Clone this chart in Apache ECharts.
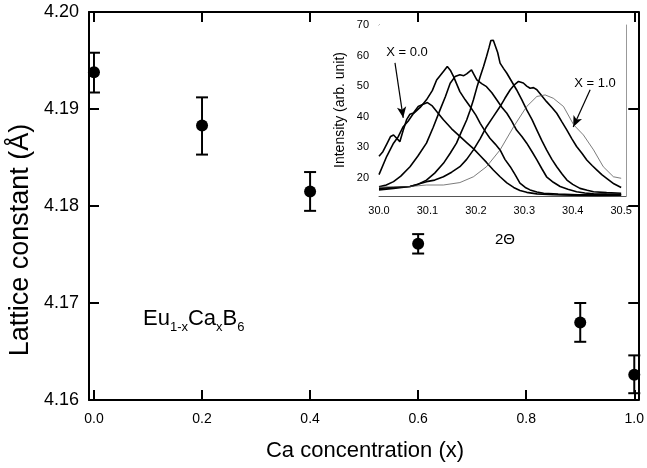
<!DOCTYPE html>
<html><head><meta charset="utf-8">
<script src="https://cdn.jsdelivr.net/npm/echarts@6/dist/echarts.min.js"></script>
<style>html,body{margin:0;padding:0;background:#fff}#c{width:647px;height:468px}</style>
</head><body><div id="c"></div>
<script>
// ---- main plot data ----
const caConc = [0, 0.2, 0.4, 0.6, 0.9, 1.0];
const latticeConst = [4.1938, 4.1883, 4.1815, 4.1761, 4.1680, 4.1626];
const errTop = [4.1958, 4.1912, 4.1835, 4.1771, 4.1700, 4.1646];
const errBottom = [4.1917, 4.1853, 4.1795, 4.1751, 4.1660, 4.1607];
const mainXTicks = [0, 0.2, 0.4, 0.6, 0.8, 1.0];
const mainYTicks = [4.16, 4.17, 4.18, 4.19, 4.20];

// ---- inset data (2theta, intensity) ----
const insetXTicks = [30.0, 30.1, 30.2, 30.3, 30.4, 30.5];
const insetYTicks = [20, 30, 40, 50, 60, 70];
const xrd_x00 = [[30.000,27.0],[30.008,28.5],[30.016,31.0],[30.024,33.5],[30.030,34.0],[30.036,33.0],[30.043,31.8],[30.050,35.5],[30.057,39.0],[30.064,40.8],[30.071,41.2],[30.081,43.3],[30.090,44.0],[30.100,44.6],[30.110,43.5],[30.120,41.5],[30.133,39.0],[30.150,36.0],[30.167,33.5],[30.181,31.5],[30.195,29.5],[30.209,27.2],[30.222,25.0],[30.236,22.5],[30.250,20.3],[30.264,18.3],[30.278,16.8],[30.291,15.8],[30.305,15.2],[30.326,14.7],[30.360,14.4],[30.400,14.3],[30.450,14.2],[30.500,14.3]];
const xrd_x02 = [[30.000,21.0],[30.016,27.0],[30.030,31.3],[30.040,33.5],[30.050,36.7],[30.060,38.5],[30.071,41.0],[30.085,43.0],[30.098,45.5],[30.110,48.5],[30.119,52.0],[30.133,54.8],[30.141,56.4],[30.148,55.0],[30.154,53.1],[30.167,48.2],[30.178,45.5],[30.188,43.3],[30.200,40.5],[30.209,37.8],[30.220,35.0],[30.229,32.9],[30.240,31.0],[30.250,29.1],[30.260,26.0],[30.271,23.6],[30.281,21.0],[30.291,18.2],[30.302,16.8],[30.312,16.0],[30.326,15.3],[30.340,14.9],[30.370,14.6],[30.410,14.4],[30.460,14.5],[30.500,14.4]];
const xrd_x04 = [[30.000,17.0],[30.015,17.6],[30.030,18.7],[30.045,20.5],[30.064,23.6],[30.080,27.0],[30.098,31.3],[30.112,36.5],[30.126,42.2],[30.137,46.5],[30.147,50.9],[30.157,53.1],[30.167,53.7],[30.175,53.4],[30.181,54.0],[30.191,55.3],[30.197,53.5],[30.202,52.0],[30.212,50.8],[30.222,49.8],[30.233,47.8],[30.243,45.5],[30.254,43.0],[30.264,41.1],[30.274,38.5],[30.284,35.6],[30.295,33.5],[30.305,31.3],[30.316,28.5],[30.326,25.8],[30.336,23.0],[30.346,20.3],[30.360,18.5],[30.374,17.1],[30.390,16.2],[30.408,15.4],[30.425,15.0],[30.443,14.7],[30.470,14.6],[30.500,14.5]];
const xrd_x06 = [[30.000,16.0],[30.030,16.5],[30.064,17.1],[30.080,17.8],[30.098,19.2],[30.115,21.5],[30.133,24.7],[30.147,28.0],[30.160,31.3],[30.170,35.0],[30.181,38.9],[30.188,42.0],[30.195,45.5],[30.202,49.5],[30.209,53.1],[30.216,56.5],[30.222,59.7],[30.227,62.5],[30.231,64.9],[30.236,65.0],[30.240,64.6],[30.245,61.0],[30.250,57.5],[30.257,55.8],[30.264,54.2],[30.274,51.5],[30.284,48.8],[30.295,45.5],[30.305,42.2],[30.316,39.0],[30.326,35.6],[30.336,32.2],[30.346,29.1],[30.357,26.0],[30.367,23.6],[30.378,21.2],[30.388,19.2],[30.400,17.8],[30.415,16.5],[30.430,15.9],[30.443,15.4],[30.470,15.1],[30.500,14.9]];
const xrd_x09 = [[30.000,16.5],[30.030,16.8],[30.064,17.1],[30.098,18.7],[30.115,19.2],[30.133,20.3],[30.150,21.8],[30.167,23.6],[30.181,26.0],[30.195,29.1],[30.209,32.8],[30.222,36.7],[30.236,40.0],[30.250,43.3],[30.260,46.0],[30.271,48.8],[30.280,50.5],[30.288,51.5],[30.298,51.0],[30.305,50.0],[30.312,49.3],[30.319,49.5],[30.326,48.8],[30.336,46.8],[30.346,44.9],[30.357,43.0],[30.367,41.1],[30.378,38.2],[30.388,35.6],[30.398,32.8],[30.408,30.2],[30.419,28.0],[30.429,25.8],[30.440,24.0],[30.450,22.5],[30.460,21.0],[30.470,19.8],[30.485,18.0],[30.500,16.8]];
const xrd_x10 = [[30.000,17.0],[30.030,17.0],[30.064,17.1],[30.098,17.6],[30.133,17.6],[30.167,18.4],[30.195,20.3],[30.222,23.6],[30.250,29.1],[30.278,36.7],[30.305,43.3],[30.326,46.6],[30.343,47.1],[30.360,46.0],[30.381,43.3],[30.402,37.3],[30.422,34.0],[30.443,29.1],[30.463,23.6],[30.484,20.3],[30.500,19.8]];

const FONT = '"Liberation Sans", Arial, Helvetica, sans-serif';
const chart = echarts.init(document.getElementById('c'), null, {renderer: 'canvas'});

function mainAxisX(pos, showLabel) {
  return {
    type: 'value', gridIndex: 0, position: pos, min: -0.0092, max: 1.0074,
    axisLine: {show: true, onZero: false, lineStyle: {color: '#000', width: 2}},
    axisTick: {show: true, inside: true, length: 10, customValues: mainXTicks, lineStyle: {color: '#000', width: 2}},
    axisLabel: {show: showLabel, customValues: mainXTicks, formatter: v => v.toFixed(1), fontFamily: FONT, fontSize: 14, color: '#000', margin: 12},
    splitLine: {show: false}
  };
}
function mainAxisY(pos, showLabel) {
  return {
    type: 'value', gridIndex: 0, position: pos, min: 4.16, max: 4.20,
    axisLine: {show: true, onZero: false, lineStyle: {color: '#000', width: 2}},
    axisTick: {show: true, inside: true, length: 10, customValues: mainYTicks, lineStyle: {color: '#000', width: 2}},
    axisLabel: {show: showLabel, customValues: mainYTicks, formatter: v => v.toFixed(2), fontFamily: FONT, fontSize: 18, color: '#000', margin: 10},
    splitLine: {show: false}
  };
}
function insetAxisX(pos, showLabel, col) {
  return {
    type: 'value', gridIndex: 1, position: pos, min: 30.0, max: 30.51,
    axisLine: {show: true, onZero: false, lineStyle: {color: col, width: 1}},
    axisTick: {show: true, inside: true, length: 4, customValues: insetXTicks, lineStyle: {color: col, width: 1}},
    axisLabel: {show: showLabel, customValues: insetXTicks, formatter: v => v.toFixed(1), fontFamily: FONT, fontSize: 11, color: '#000', margin: 9},
    splitLine: {show: false}
  };
}
function insetAxisY(pos, showLabel, col) {
  return {
    type: 'value', gridIndex: 1, position: pos, min: 14, max: 70,
    axisLine: {show: true, onZero: false, lineStyle: {color: col, width: 1}},
    axisTick: {show: true, inside: true, length: 4, customValues: insetYTicks, lineStyle: {color: col, width: 1}},
    axisLabel: {show: showLabel, customValues: insetYTicks, formatter: v => String(v), fontFamily: FONT, fontSize: 11, color: '#000', margin: 10},
    splitLine: {show: false}
  };
}

const scatterData = caConc.map((x, i) => [x, latticeConst[i]]);
const errData = caConc.map((x, i) => [x, errBottom[i], errTop[i]]);

function lineSeries(data, color, width, extra) {
  return Object.assign({
    type: 'line', xAxisIndex: 2, yAxisIndex: 2, data: data, showSymbol: false, symbol: 'none',
    lineStyle: {color: color, width: width}, silent: true, animation: false, z: 5
  }, extra || {});
}

const option = {
  animation: false,
  backgroundColor: '#fff',
  grid: [
    {left: 89, top: 12, width: 552, height: 388, show: false},
    {left: 379, top: 25, width: 247, height: 171, show: true, backgroundColor: '#fff', borderWidth: 0, z: 3}
  ],
  xAxis: [
    mainAxisX('bottom', true), mainAxisX('top', false),
    insetAxisX('bottom', true, '#555'), insetAxisX('top', false, '#999')
  ],
  yAxis: [
    mainAxisY('left', true), mainAxisY('right', false),
    insetAxisY('left', true, '#555'), insetAxisY('right', false, '#999')
  ],
  series: [
    {
      type: 'custom', xAxisIndex: 0, yAxisIndex: 0, data: errData, z: 4,
      renderItem: function (params, api) {
        const x = api.value(0);
        const lo = api.coord([x, api.value(1)]);
        const hi = api.coord([x, api.value(2)]);
        const hw = 6;
        const st = {stroke: '#000', lineWidth: 2};
        return {type: 'group', children: [
          {type: 'line', shape: {x1: lo[0], y1: lo[1], x2: hi[0], y2: hi[1]}, style: st},
          {type: 'line', shape: {x1: lo[0] - hw, y1: lo[1], x2: lo[0] + hw, y2: lo[1]}, style: st},
          {type: 'line', shape: {x1: hi[0] - hw, y1: hi[1], x2: hi[0] + hw, y2: hi[1]}, style: st}
        ]};
      }
    },
    {type: 'scatter', xAxisIndex: 0, yAxisIndex: 0, data: scatterData, symbol: 'circle', symbolSize: 12, itemStyle: {color: '#000', opacity: 1}, z: 5},
    lineSeries(xrd_x00, '#000', 1.6, {
      markLine: {silent: true, symbol: ['none', 'arrow'], symbolSize: [7, 11], label: {show: false},
        lineStyle: {color: '#000', width: 1.2, type: 'solid'},
        data: [[{coord: [30.033, 57.6]}, {coord: [30.050, 39.6]}]]}
    }),
    lineSeries(xrd_x02, '#000', 1.6),
    lineSeries(xrd_x04, '#000', 1.6),
    lineSeries(xrd_x06, '#000', 1.6),
    lineSeries(xrd_x09, '#000', 1.6),
    lineSeries(xrd_x10, '#444', 0.7, {
      markLine: {silent: true, symbol: ['none', 'arrow'], symbolSize: [7, 11], label: {show: false},
        lineStyle: {color: '#000', width: 1.2, type: 'solid'},
        data: [[{coord: [30.436, 48.8]}, {coord: [30.401, 36.6]}]]}
    })
  ],
  graphic: [
    {type: 'text', x: 21, y: 240, rotation: Math.PI / 2, style: {text: 'Lattice constant (Å)', font: '27px ' + FONT, fill: '#000', align: 'center', verticalAlign: 'middle'}},
    {type: 'text', x: 365, y: 451, style: {text: 'Ca concentration (x)', font: '22px ' + FONT, fill: '#000', align: 'center', verticalAlign: 'middle'}},
    {type: 'text', x: 340, y: 110, rotation: Math.PI / 2, z: 10, style: {text: 'Intensity (arb. unit)', font: '14px ' + FONT, fill: '#000', align: 'center', verticalAlign: 'middle'}},
    {type: 'text', x: 505, y: 240, z: 10, style: {text: '2Θ', font: '15px ' + FONT, fill: '#000', align: 'center', verticalAlign: 'middle'}},
    {type: 'text', x: 407, y: 52, z: 10, style: {text: 'X = 0.0', font: '13px ' + FONT, fill: '#000', align: 'center', verticalAlign: 'middle'}},
    {type: 'text', x: 595, y: 83, z: 10, style: {text: 'X = 1.0', font: '13px ' + FONT, fill: '#000', align: 'center', verticalAlign: 'middle'}},
    {type: 'text', x: 143, y: 330, z: 10, style: {
      text: '{m|Eu}{s|1-x}{m|Ca}{s|x}{m|B}{s|6}', align: 'left', verticalAlign: 'bottom',
      rich: {
        m: {fontFamily: FONT, fontSize: 22, fill: '#000', lineHeight: 26, verticalAlign: 'bottom'},
        s: {fontFamily: FONT, fontSize: 13, fill: '#000', lineHeight: 13, verticalAlign: 'bottom', padding: [0, 0, -4, 0]}
      }
    }}
  ]
};
chart.setOption(option);
</script>
</body></html>
